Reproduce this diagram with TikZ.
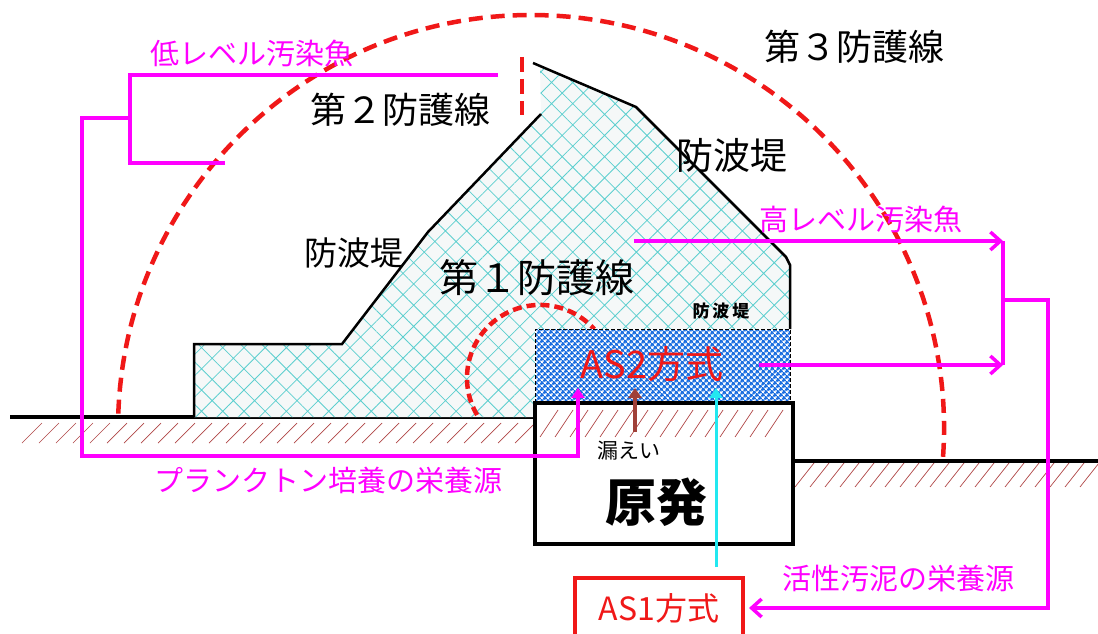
\documentclass[tikz,border=0pt]{standalone}
\usepackage{fontspec}
\setmainfont{Noto Sans CJK JP}
\usetikzlibrary{arrows.meta,patterns.meta,positioning}
\definecolor{bwcyan}{HTML}{5CCFCF}
\definecolor{bwfill}{HTML}{F5F8F8}
\definecolor{fishmag}{HTML}{FF00FF}
\definecolor{guardred}{HTML}{F01818}
\definecolor{soilred}{HTML}{B04646}
\definecolor{asblue}{HTML}{1A6EE0}
\definecolor{leakbrown}{HTML}{A04038}
\definecolor{sludgecyan}{HTML}{22E8F0}
\newcommand\jfs[1]{\fontsize{#1pt}{#1pt}\selectfont}
\tikzset{
  wall/.style={font=\jfs{36}},
  dyke/.style={font=\jfs{33}},
  fish/.style={text=fishmag,font=\jfs{29}},
  soil/.style={draw=soilred,line width=.7pt},
  ground/.style={draw=black,line width=3.5pt},
  dykeedge/.style={draw=black,line width=2.5pt},
  breakwater/.style={preaction={fill=bwfill},
                     pattern={Hatch[distance=15pt,angle=45,line width=.8pt]},pattern color=bwcyan},
  guard/.style={draw=guardred,line width=4.5pt,dash pattern=on 14pt off 8pt},
  guardsmall/.style={guard,dash pattern=on 9pt off 5pt},
  asbox/.style={draw=black,line width=1pt,dash pattern=on 4pt off 2pt,preaction={fill=white},
                pattern={Hatch[distance=4pt,angle=45,line width=1.9pt]},pattern color=asblue,
                minimum width=255pt,minimum height=74pt},
  plantbox/.style={draw=black,line width=3.5pt,minimum width=258pt,minimum height=141pt},
  redbox/.style={draw=guardred,line width=4pt,minimum width=168pt,minimum height=60pt,
                 text=guardred,font=\jfs{32}},
  fishline/.style={draw=fishmag,line width=3.5pt},
  fisharrow/.style={fishline,-{Straight Barb[length=10pt,width=18pt]}},
  uparrow/.style={-{Triangle[length=10pt,width=13pt]}}
}
\begin{document}
\begin{tikzpicture}[x=1pt,y=-1pt,every node/.style={inner sep=0pt}]
  \useasboundingbox (0,0) rectangle (1098,634);
  \fill[white] (0,0) rectangle (1098,634);

  % soil under the ground lines
  \foreach \x in {22,39,...,520}
    \draw[soil] (\x,443) -- ++(20,-20);
  \foreach \x in {540,555,...,770}
    \draw[soil] (\x,437) -- ++(18,-27);
  \foreach \x in {795,810,...,1090}
    \draw[soil] (\x,487) -- ++(19,-24);
  \draw[ground] (10,417) -- (535,417);
  \draw[ground] (793,461) -- (1098,461);

  % breakwater
  \path[breakwater] (194,417) -- (194,344) -- (342,344) -- (428,232) -- (541,114) -- (540,66)
    -- (636,107) -- (786,257) -- (790,265) -- (790,329) -- (535,329) -- (535,417) -- cycle;
  \draw[dykeedge] (194,417) -- (194,344) -- (342,344) -- (428,232) -- (541,114);
  \draw[dykeedge] (533,63) -- (636,107) -- (786,257) -- (790,265) -- (790,329);

  % protection lines
  \draw[guard] (118.3,413.6) arc[start angle=182,end angle=364,radius=413];
  \draw[guardsmall] (477.1,415) arc[start angle=149.5,end angle=318,radius=73];
  \draw[guard,dash pattern=on 15pt off 7pt] (522,57) -- (522,115);

  % plant and treatment boxes
  \node[asbox] (as2) at (662.5,366) {};
  \node[plantbox] (plant) at (664,473.5) {};
  \node[redbox] (as1) at (659,608) {AS1方式};

  % labels
  \node[wall] (wall3) at (854,47) {第３防護線};
  \node[wall] (wall2) at (400,110) {第２防護線};
  \node[wall,font=\jfs{39}] (wall1) at (537,278) {第１防護線};
  \node[dyke,font=\jfs{37}] (dykeR) at (732,155) {防波堤};
  \node[dyke] (dykeL) at (354,253) {防波堤};
  \node[font=\jfs{17}\bfseries] (dykeS) at (721,311) {防\hspace{3pt}波\hspace{3pt}堤};
  \node[text=guardred,font=\jfs{38}] (as2lbl) at (652,364) {AS2方式};
  \node[font=\jfs{21}] (leak) at (629,451) {漏えい};
  \node[font=\jfs{51}\bfseries] (plantlbl) at (656,502) {原発};
  \node[fish] (lowfish) at (252,53) {低レベル汚染魚};
  \node[fish] (hifish) at (861,219) {高レベル汚染魚};
  \node[fish] (plankton) at (328,480) {プランクトン培養の栄養源};
  \node[fish] (sludge) at (898,578) {活性汚泥の栄養源};

  % flows
  \coordinate (lowsrc) at (498,75);
  \coordinate (lowtip) at (225,163);
  \coordinate (lowmid) at (130,118);
  \coordinate (plkin) at (578,388);
  \coordinate (hisrc) at (634,241);
  \coordinate (hijoin) at (1003,241);
  \coordinate (asout) at (759,365);
  \coordinate (asjoin) at (1003,365);
  \coordinate (midjoin) at (1003,300);
  \coordinate (leakbot) at (635,432);
  \coordinate (leakin) at (635,388);
  \coordinate (sludgeout) at (716,567);
  \coordinate (sludgein) at (716,388);

  \draw[fishline] (lowsrc) -- (130,75) |- (lowtip);
  \draw[fishline,uparrow] (lowmid) -- (82,118) |- (578,456) -- (plkin);
  \draw[fisharrow] (hisrc) -- (hijoin);
  \draw[fisharrow] (asout) -- (asjoin);
  \draw[fishline] (hijoin) -- (asjoin);
  \draw[fisharrow,shorten >=4pt] (midjoin) -| (1048,608) -- (as1.east);
  \draw[draw=leakbrown,line width=4pt,uparrow] (leakbot) -- (leakin);
  \draw[draw=sludgecyan,line width=3pt,uparrow] (sludgeout) -- (sludgein);
\end{tikzpicture}
\end{document}
